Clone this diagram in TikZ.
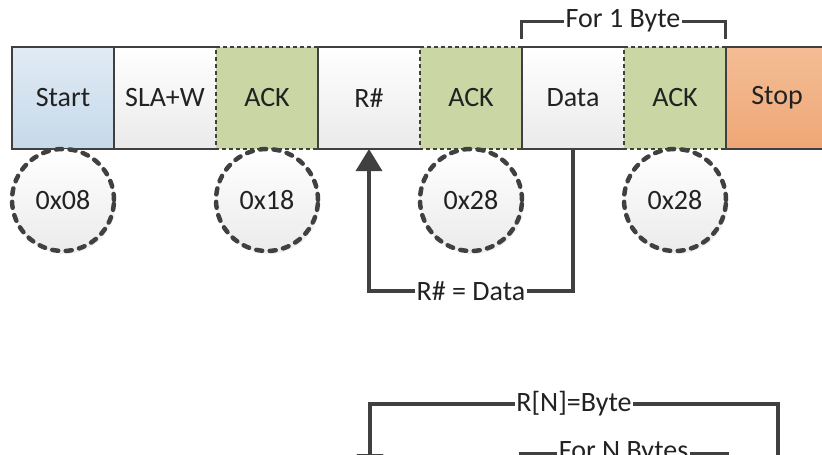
\documentclass[tikz,border=0pt]{standalone}
\usepackage{fontspec}
\setmainfont{Carlito}
\usetikzlibrary{arrows.meta,shadows}
\definecolor{edge}{HTML}{404040}
\definecolor{txt}{HTML}{222222}
\definecolor{startT}{HTML}{E1EBF4}
\definecolor{startB}{HTML}{C6D9EA}
\definecolor{plainB}{HTML}{EAEAEA}
\definecolor{ackC}{HTML}{CAD6A4}
\definecolor{stopT}{HTML}{F4BD95}
\definecolor{stopB}{HTML}{EEA776}
\definecolor{badgeB}{HTML}{EBEBEB}
\begin{document}
\begin{tikzpicture}[x=1pt,y=-1pt,
  txtfont/.style={font=\fontsize{28}{32}\selectfont,text=txt},
  cell/.style={txtfont,minimum width=102pt,minimum height=102pt,inner sep=0pt,outer sep=0pt},
  plaincell/.style={cell,top color=white,bottom color=plainB},
  ackcell/.style={cell,fill=ackC},
  solidedge/.style={draw=edge,line width=2pt},
  dashedge/.style={draw=edge,line width=2pt,dash pattern=on 4pt off 3pt},
  badge/.style={circle,txtfont,minimum size=102pt,inner sep=0pt,draw=edge,line width=4.5pt,
    dash pattern=on 6pt off 7.5pt,line cap=round,top color=white,bottom color=badgeB,
    drop shadow={opacity=0.12,shadow xshift=2pt,shadow yshift=-3pt}},
  conn/.style={draw=edge,line width=3.5pt},
  tip/.style={-{Triangle[length=22pt,width=26pt]}},
  lbl/.style={txtfont,fill=white,inner sep=1.5pt}]
\useasboundingbox (0,0) rectangle (822,455);
\clip (0,0) rectangle (822,455);

% frame cells
\node[cell,top color=startT,bottom color=startB] (start) at (63,98) {Start};
\node[plaincell] (sla) at (165,98) {SLA+W};
\node[ackcell] (ack1) at (267,98) {ACK};
\node[plaincell] (reg) at (369,98) {R\#};
\node[ackcell] (ack2) at (471,98) {ACK};
\node[plaincell] (data) at (573,98) {Data};
\node[ackcell] (ack3) at (675,98) {ACK};
\node[cell,top color=stopT,bottom color=stopB] (stop) at (777,98) {Stop};

% cell borders
\foreach \n in {start,sla,reg,data,stop}
  \draw[solidedge] (\n.north east) -- (\n.north west) -- (\n.south west) -- (\n.south east);
\foreach \n in {ack1,ack2,ack3}
  \draw[dashedge] (\n.north east) -- (\n.north west) -- (\n.south west) -- (\n.south east);
\draw[solidedge] (ack1.north east) -- (ack1.south east);
\draw[solidedge] (ack2.north east) -- (ack2.south east);
\draw[solidedge] (ack3.north east) -- (ack3.south east);

% status badges
\node[badge] (s08) at (63,200) {0x08};
\node[badge] (s18) at (267,200) {0x18};
\node[badge] (s28a) at (471,200) {0x28};
\node[badge] (s28b) at (675,200) {0x28};

% R# = Data arrow
\draw[conn,tip] (data.south) -- ++(0,142) -| node[pos=0.25,lbl] {R\# = Data} (reg.south);

% For 1 Byte bracket
\coordinate (f1a) at (521,39);
\coordinate (f1b) at (725,39);
\draw[conn,line width=3pt] (f1a) -- ++(0,-18) -| node[pos=0.25,lbl] {For 1 Byte} (f1b);

% lower (cut) diagram
\coordinate (rnr) at (778,480);
\coordinate (rnl) at (370,476);
\draw[conn,tip] (rnr) -- ++(0,-76) -| node[pos=0.25,lbl] {R[N]=Byte} (rnl);
\coordinate (fna) at (520,480);
\coordinate (fnb) at (727,480);
\draw[conn,line width=3pt] (fna) -- ++(0,-27) -| node[pos=0.25,lbl] {For N Bytes} (fnb);
\end{tikzpicture}
\end{document}
